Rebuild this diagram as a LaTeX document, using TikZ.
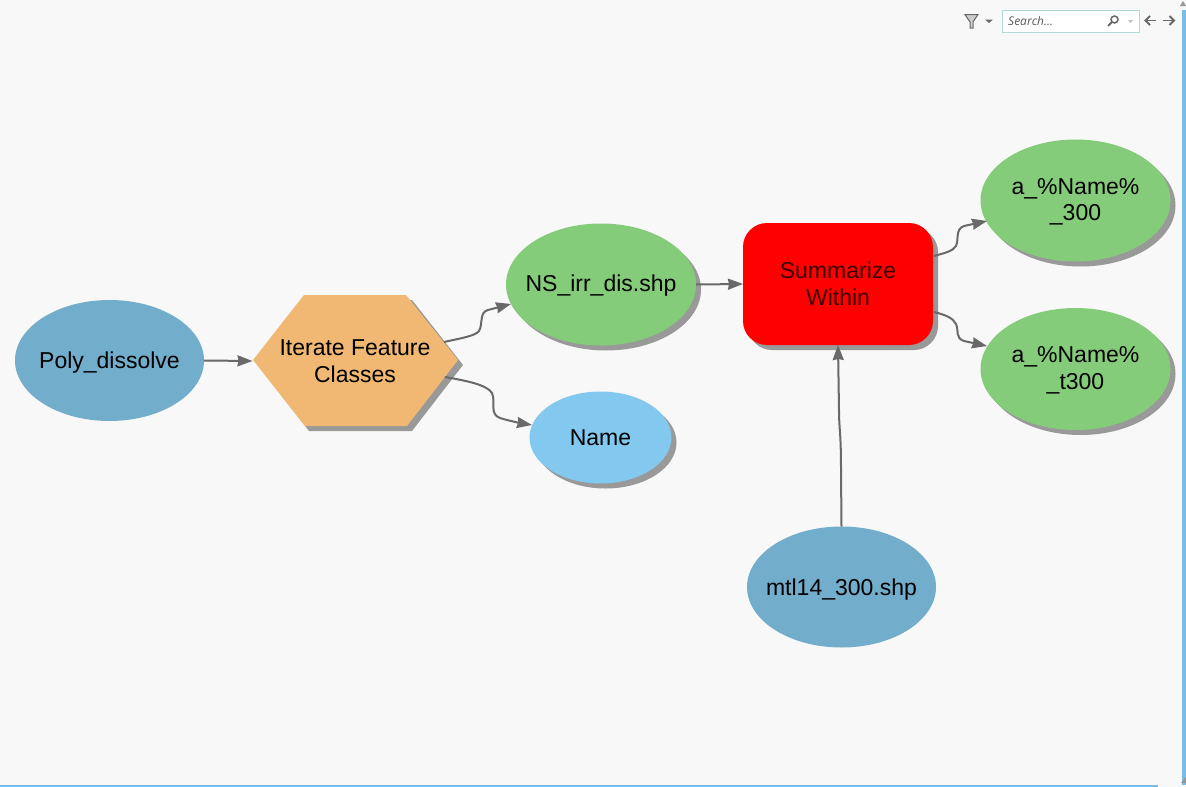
\documentclass[tikz,border=0pt]{standalone}
\usepackage{fontspec}
\setmainfont{Liberation Sans}
\newfontfamily\uifont{Open Sans}
\usetikzlibrary{shapes.geometric,shadows,arrows.meta}
\definecolor{bg}{HTML}{F8F8F8}
\definecolor{shadowgrey}{HTML}{999999}
\definecolor{wire}{HTML}{696969}
\definecolor{dsgreen}{HTML}{85CC7A}
\definecolor{dsblue}{HTML}{72ADCB}
\definecolor{dslight}{HTML}{82C8EF}
\definecolor{dsorange}{HTML}{F0B872}
\definecolor{uibar}{HTML}{78BDE6}
\tikzset{
  lbl/.style={font=\fontsize{23}{26.7}\selectfont,align=center,text=black,inner sep=0pt,outer sep=0pt},
  shd/.style={drop shadow={shadow xshift=5pt,shadow yshift=-5pt,fill=shadowgrey,opacity=1}},
  oval/.style={lbl,shape=ellipse,inner xsep=-35pt,minimum width=#1},
  input/.style={oval=189pt,minimum height=121pt,fill=dsblue,text depth=0pt},
  outgreen/.style={oval=190pt,minimum height=122pt,fill=dsgreen,shd,text depth=2pt},
  wirearrow/.style={draw=wire,line width=2pt,-{Stealth[length=15pt,width=11pt,inset=1pt]}}
}
\begin{document}
\begin{tikzpicture}[x=1pt,y=-1pt]
\useasboundingbox (0,0) rectangle (1186,787);
\fill[bg] (0,0) rectangle (1186,787);
% window edges
\fill[uibar] (1182,10) rectangle (1186,785);
\fill[uibar] (0,785) rectangle (1158,787);
\fill[wire!70] (1186,777) -- (1186,783) -- (1181,783) -- cycle;
\fill[wire!70] (1180,6) -- (1183,1) -- (1186,6) -- cycle;
% hexagon
\fill[shadowgrey] (258,365) -- (309,300) -- (412,300) -- (463,365) -- (412,431) -- (309,431) -- cycle;
\fill[dsorange] (253,360) -- (304,295) -- (406,295) -- (458,360) -- (407,426) -- (305,426) -- cycle;
\node[lbl,minimum width=205pt,minimum height=131pt] (iter) at (355,361) {Iterate Feature\\Classes};
% data nodes
\node[input] (poly) at (109.5,360.5) {Poly\_dissolve};
\node[outgreen] (ns) at (601,284.5) {NS\_irr\_dis.shp};
\node[oval=142pt,minimum height=92pt,fill=dslight,shd] (name) at (600.5,437.5) {Name};
\node[lbl,minimum width=190pt,minimum height=122pt,fill=red,rounded corners=24pt,shd] (sum) at (838,284) {\textcolor[HTML]{3A0000}{Summarize}\\\textcolor[HTML]{3A0000}{Within}};
\node[outgreen] (a300) at (1075.5,200.5) {a\_\%Name\%\\\_300};
\node[outgreen] (t300) at (1075.5,369) {a\_\%Name\%\\\_t300};
\node[input] (mtl) at (841.5,587) {mtl14\_300.shp};
% free ends on the hexagon and the tool
\coordinate (iterA) at (444,342);
\coordinate (iterB) at (445,377);
\coordinate (sumA) at (934,256);
\coordinate (sumB) at (934,312);
\coordinate (ta) at (511,304);
\coordinate (tb) at (532,425);
\coordinate (tc) at (987,221);
\coordinate (td) at (987,346);
% connectors
\draw[wirearrow] (poly.east) -- (iter.west);
\draw[wirearrow] (iterA) .. controls (462,338) and (475,336) .. (479,331) .. controls (483,325) and (479,312) .. (488,310) -- (ta);
\draw[wirearrow] (iterB) .. controls (468,381) and (487,385) .. (492,393) .. controls (496,402) and (489,414) .. (500,418) .. controls (510,421) and (520,423) .. (tb);
\draw[wirearrow] (ns.east) -- (sum.west);
\draw[wirearrow] (sumA) .. controls (945,253) and (953,251) .. (956,246) .. controls (959,240) and (955,229) .. (964,226) -- (tc);
\draw[wirearrow] (sumB) .. controls (946,315) and (953,318) .. (956,324) .. controls (959,331) and (955,338) .. (964,341) -- (td);
\draw[wirearrow] (mtl.north) -- (841,470) .. controls (841,430) and (839,430) .. (839,410) -- (sum.south);
% toolbar
\fill[white] (1002,10) rectangle (1140,33);
\draw[teal!30!white,line width=1pt] (1002.5,10.5) rectangle (1139.5,32.5);
\node[font=\uifont\itshape\fontsize{12}{14}\selectfont,text=black!65,anchor=west,inner sep=0pt] (search) at (1008,21.5) {Search...};
\fill[black!20] (965,14.5) -- (978,14.5) -- (973,22) -- (973,28) -- (970,28) -- (970,22) -- cycle;
\draw[wire,line width=1pt] (965,14.5) -- (978,14.5) -- (973,22) -- (973,28) -- (970,28) -- (970,22) -- cycle;
\fill[wire] (985,19.5) -- (993,19.5) -- (989,23) -- cycle;
\draw[wire,line width=1.5pt] (1114.5,19.5) circle (3.5pt);
\draw[wire,line width=1.8pt] (1112,22) -- (1108,26);
\fill[black!25] (1128,20) -- (1133,20) -- (1130.5,23) -- cycle;
\draw[wire,line width=1.8pt] (1156,20.5) -- (1146,20.5);
\draw[wire,line width=1.8pt] (1150,16) -- (1145.5,20.5) -- (1150,25);
\draw[wire,line width=1.8pt] (1163,20.5) -- (1174,20.5);
\draw[wire,line width=1.8pt] (1169.5,16) -- (1174,20.5) -- (1169.5,25);
\end{tikzpicture}
\end{document}
